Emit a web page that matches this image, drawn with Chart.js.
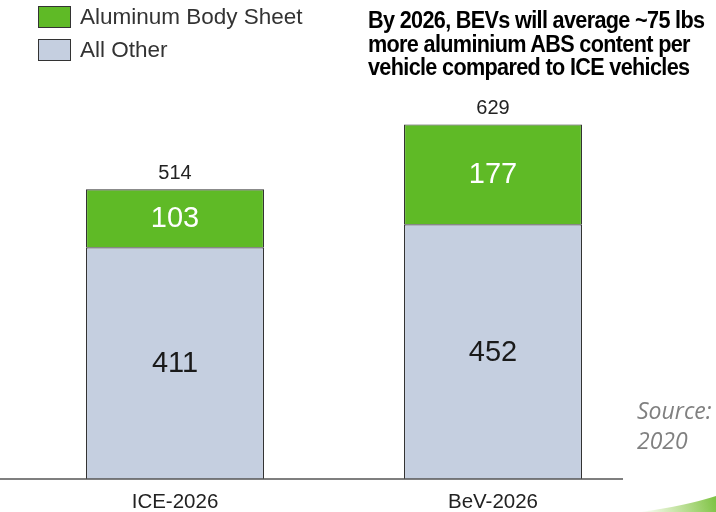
<!DOCTYPE html>
<html>
<head>
<meta charset="utf-8">
<script src="https://cdn.jsdelivr.net/npm/chart.js@4.4.1/dist/chart.umd.min.js"></script>
<style>
  html, body { margin: 0; padding: 0; background: #fff; }
  #wrap { position: relative; width: 716px; height: 512px; overflow: hidden; }
  #c { position: absolute; left: 0; top: 0; }
  #legend { position: absolute; left: 38px; top: 6px; font-family: "Liberation Sans", Arial, sans-serif; font-size: 22.5px; color: #333; }
  .li { display: flex; align-items: center; height: 22px; margin-bottom: 11px; }
  .sw { width: 31px; height: 20px; border: 1px solid #333; margin-right: 9px; flex: none; }
  #title { position: absolute; left: 368px; top: 9px; width: 400px; font-family: "Liberation Sans Narrow", "Liberation Sans", sans-serif; font-weight: bold; font-size: 23px; line-height: 23.5px; letter-spacing: -0.7px; color: #000; transform: scaleX(0.94); transform-origin: 0 0; white-space: nowrap; }
  #source { position: absolute; left: 637px; top: 395px; font-family: "Open Sans", "Liberation Sans", sans-serif; font-style: italic; font-size: 23px; line-height: 30px; color: #808080; white-space: nowrap; }
</style>
</head>
<body>
<div id="wrap">
  <canvas id="c" width="716" height="512"></canvas>
  <div id="legend"></div>
  <div id="title">By 2026, BEVs will average ~75 lbs<br>more aluminium ABS content per<br>vehicle compared to ICE vehicles</div>
  <div id="source">Source:<br>2020</div>
</div>
<script>
const categories = ["ICE-2026", "BeV-2026"];
const allOther = [411, 452];
const bodySheet = [103, 177];
const seriesNames = ["All Other", "Aluminum Body Sheet"];
const totals = [514, 629];

const GREEN = "#5fba26";
const BLUE = "#c5cfe0";

const legendItems = [
  { name: seriesNames[1], color: GREEN },
  { name: seriesNames[0], color: BLUE }
];
const lg = document.getElementById("legend");
legendItems.forEach(it => {
  const d = document.createElement("div");
  d.className = "li";
  d.innerHTML = '<span class="sw" style="background:' + it.color + '"></span><span>' + it.name + '</span>';
  lg.appendChild(d);
});

const labelPlugin = {
  id: "labels",
  afterDatasetsDraw(chart) {
    const ctx = chart.ctx;
    ctx.save();
    ctx.textAlign = "center";
    ctx.textBaseline = "middle";
    chart.data.datasets.forEach((ds, di) => {
      const meta = chart.getDatasetMeta(di);
      meta.data.forEach((bar, i) => {
        const cy = (bar.y + bar.base) / 2;
        ctx.font = "29px 'Liberation Sans', Arial, sans-serif";
        ctx.fillStyle = di === 1 ? "#ffffff" : "#1a1a1a";
        ctx.fillText(String(ds.data[i]), bar.x, cy + 1);
      });
    });
    const topMeta = chart.getDatasetMeta(chart.data.datasets.length - 1);
    topMeta.data.forEach((bar, i) => {
      ctx.font = "20px 'Liberation Sans', Arial, sans-serif";
      ctx.fillStyle = "#222";
      ctx.fillText(String(totals[i]), bar.x, bar.y - 16);
    });
    ctx.restore();
  },
  afterDraw(chart) {
    const ctx = chart.ctx;
    const b = chart.chartArea.bottom;
    ctx.save();
    ctx.strokeStyle = "#555";
    ctx.lineWidth = 1.5;
    ctx.beginPath();
    ctx.moveTo(0, b);
    ctx.lineTo(623, b);
    ctx.stroke();
    const g = ctx.createLinearGradient(640, 512, 716, 495);
    g.addColorStop(0, "rgba(140,200,60,0)");
    g.addColorStop(1, "#7cc242");
    ctx.fillStyle = g;
    ctx.beginPath();
    ctx.moveTo(640, 512);
    ctx.quadraticCurveTo(685, 506, 716, 496);
    ctx.lineTo(716, 512);
    ctx.closePath();
    ctx.fill();
    ctx.restore();
  }
};

new Chart(document.getElementById("c"), {
  type: "bar",
  data: {
    labels: categories,
    datasets: [
      { label: seriesNames[0], data: allOther, backgroundColor: BLUE, borderColor: "#333", borderWidth: 1.2, barPercentage: 0.56, categoryPercentage: 1 },
      { label: seriesNames[1], data: bodySheet, backgroundColor: GREEN, borderColor: "#333", borderWidth: 1.2, barPercentage: 0.56, categoryPercentage: 1 }
    ]
  },
  options: {
    responsive: false,
    animation: false,
    layout: { padding: { left: 16, right: 64, top: 28, bottom: 0 } },
    plugins: { legend: { display: false }, tooltip: { enabled: false } },
    scales: {
      x: {
        stacked: true,
        grid: { display: false },
        border: { display: false },
        ticks: { color: "#222", font: { family: "'Liberation Sans', Arial, sans-serif", size: 20.5 }, padding: 3 },
        afterFit(scale) { scale.height = 33; }
      },
      y: {
        stacked: true,
        display: false,
        min: 0,
        max: 800
      }
    }
  },
  plugins: [labelPlugin]
});
</script>
</body>
</html>
